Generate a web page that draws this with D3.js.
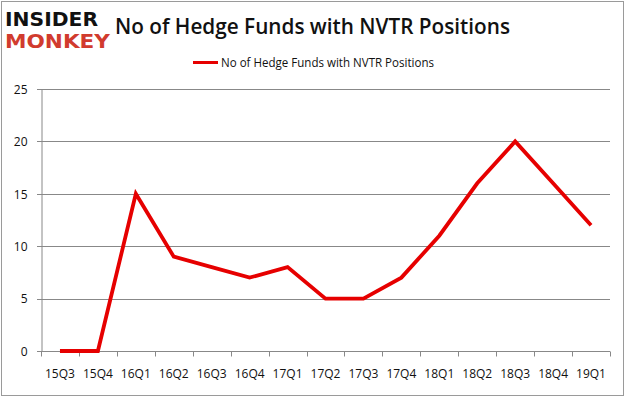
<!DOCTYPE html>
<html lang="en">
<head>
<meta charset="UTF-8" />
<title>NVTR hedge funds</title>
<script src="https://cdn.jsdelivr.net/npm/d3@7"></script>
<style>
  body { margin: 0; background: #fff; }
  text { font-family: "Open Sans", "Noto Sans", sans-serif; fill: #111; }
  .grid line { stroke: #888; stroke-width: 1px; }
  .axis path, .axis line { stroke: #888; }
  .data-line { fill: none; stroke: rgb(230,0,0); stroke-width: 3.8px; stroke-linejoin: miter; }
</style>
</head>
<body>
<script>
var quarters = ["15Q3","15Q4","16Q1","16Q2","16Q3","16Q4","17Q1","17Q2","17Q3","17Q4","18Q1","18Q2","18Q3","18Q4","19Q1"];
var funds = [0, 0, 15, 9, 8, 7, 8, 5, 5, 7, 11, 16, 20, 16, 12];
var yTicks = [0, 5, 10, 15, 20, 25];
var seriesName = "No of Hedge Funds with NVTR Positions";
var chartTitle = "No of Hedge Funds with NVTR Positions";

var w = 626, h = 397;
var margin = { top: 89, right: 16, bottom: 46, left: 41 };

var svg = d3.select("body").append("svg")
  .attr("width", w)
  .attr("height", h);

// outer frame
svg.append("rect")
  .attr("x", 1.5).attr("y", 1.5)
  .attr("width", w - 4).attr("height", h - 3)
  .attr("fill", "#fff")
  .attr("stroke", "#9a9a9a");

var xScale = d3.scaleBand()
  .domain(quarters)
  .range([margin.left, w - margin.right]);

var yScale = d3.scaleLinear()
  .domain([0, 25])
  .range([h - margin.bottom, margin.top]);

// gridlines
svg.append("g")
  .attr("class", "grid")
  .selectAll("line")
  .data(yTicks)
  .enter()
  .append("line")
  .attr("x1", margin.left - 4)
  .attr("x2", w - margin.right)
  .attr("y1", function(d) { return Math.round(yScale(d)) + 0.5; })
  .attr("y2", function(d) { return Math.round(yScale(d)) + 0.5; });

// y axis
var yAxis = d3.axisLeft(yScale).tickValues(yTicks).tickSize(0).tickPadding(14);
var gy = svg.append("g")
  .attr("class", "axis")
  .attr("transform", "translate(" + (margin.left + 0.5) + ",0.5)")
  .call(yAxis);
gy.selectAll("text").style("font-size", "12px");

// x axis with ticks at category boundaries
var gx = svg.append("g")
  .attr("class", "axis")
  .attr("transform", "translate(0," + (Math.round(yScale(0)) + 0.5) + ")");
gx.append("line")
  .attr("x1", margin.left).attr("x2", w - margin.right);
gx.selectAll(".tick-mark")
  .data(quarters.concat(["end"]))
  .enter()
  .append("line")
  .attr("class", "tick-mark")
  .attr("x1", function(d, i) { return Math.round(margin.left + i * xScale.step()) + 0.5; })
  .attr("x2", function(d, i) { return Math.round(margin.left + i * xScale.step()) + 0.5; })
  .attr("y1", 0).attr("y2", 5);
gx.selectAll(".tick-label")
  .data(quarters)
  .enter()
  .append("text")
  .attr("class", "tick-label")
  .attr("x", function(d) { return xScale(d) + xScale.bandwidth() / 2; })
  .attr("y", 26)
  .attr("text-anchor", "middle")
  .style("font-size", "12px")
  .text(function(d) { return d; });

// data line
var line = d3.line()
  .x(function(d, i) { return xScale(quarters[i]) + xScale.bandwidth() / 2; })
  .y(function(d) { return yScale(d); });

svg.append("path")
  .datum(funds)
  .attr("class", "data-line")
  .attr("d", line);

// title
svg.append("text")
  .attr("x", 115)
  .attr("y", 34)
  .attr("textLength", 395)
  .attr("lengthAdjust", "spacingAndGlyphs")
  .style("font-size", "21px")
  .style("font-weight", "600")
  .text(chartTitle);

// legend
svg.append("line")
  .attr("x1", 193).attr("x2", 218)
  .attr("y1", 62.5).attr("y2", 62.5)
  .attr("stroke", "rgb(230,0,0)")
  .attr("stroke-width", 3);
svg.append("text")
  .attr("x", 221)
  .attr("y", 66.5)
  .attr("textLength", 213)
  .attr("lengthAdjust", "spacingAndGlyphs")
  .style("font-size", "12px")
  .text(seriesName);

// logo
svg.append("text")
  .attr("x", 5).attr("y", 26)
  .attr("textLength", 93)
  .attr("lengthAdjust", "spacingAndGlyphs")
  .style("font-family", "'DejaVu Sans', sans-serif")
  .style("font-weight", "bold")
  .style("font-size", "19px")
  .style("fill", "#111")
  .text("INSIDER");
svg.append("text")
  .attr("x", 5).attr("y", 48)
  .attr("textLength", 105)
  .attr("lengthAdjust", "spacingAndGlyphs")
  .style("font-family", "'DejaVu Sans', sans-serif")
  .style("font-weight", "bold")
  .style("font-size", "19px")
  .style("fill", "#d13b2e")
  .text("MONKEY");
</script>
</body>
</html>
